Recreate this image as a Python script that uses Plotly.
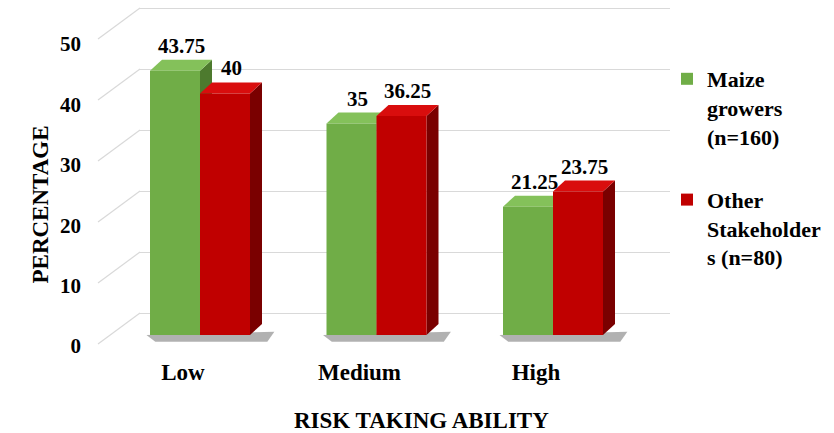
import plotly.graph_objects as go

# ---- data -------------------------------------------------------------
categories = ["Low", "Medium", "High"]
maize_growers = [43.75, 35, 21.25]
other_stakeholders = [40, 36.25, 23.75]
series_names = ["Maize<br>growers<br>(n=160)", "Other<br>Stakeholder<br>s (n=80)"]
y_ticks = [0, 10, 20, 30, 40, 50]

# ---- geometry (pixels) ------------------------------------------------
W, H = 834, 433
L, R, T, B = 140, 164, 5, 83
plot_w = W - L - R
plot_h = H - T - B

px_per_cat = 176.5          # horizontal distance between categories
first_cat_px = 200          # pixel x of first category centre
x_range = [(L - first_cat_px) / px_per_cat, (L + plot_w - first_cat_px) / px_per_cat]

px_per_unit = 6.04          # vertical scale of the columns
zero_px = 335               # pixel y of column base
y_range = [-(T + plot_h - zero_px) / px_per_unit, (zero_px - T) / px_per_unit]

grid_px = 6.1               # back-wall grid scale
grid_zero = 313
grid_range = [-(T + plot_h - grid_zero) / grid_px, (grid_zero - T) / grid_px]

bar_w = 50 / px_per_cat
depth_x = 12 / px_per_cat
depth_y = 11 / px_per_unit

styles = [
    dict(front="#70ad47", top="#84c15a", side="#4d7a2e", offset=-bar_w),
    dict(front="#c00000", top="#d90d0d", side="#7a0000", offset=0.0),
]

font_family = "Times New Roman, Liberation Serif, serif"

fig = go.Figure()

# ---- floor shadows and 3D faces (drawn beneath the column fronts) ----
for i, _ in enumerate(categories):
    xl = i - bar_w
    xr = i + bar_w + depth_x
    fig.add_trace(go.Scatter(
        x=[xl - 0.02, xr + 0.07, xr + 0.03, xl + 0.03, xl - 0.02],
        y=[0, depth_y * 0.3, -1.1, -1.1, 0],
        fill="toself", fillcolor="rgba(60,60,60,0.4)",
        line=dict(width=0), mode="lines", showlegend=False, hoverinfo="skip",
        xaxis="x", yaxis="y",
    ))

for values, st in zip([maize_growers, other_stakeholders], styles):
    for i, v in enumerate(values):
        xl = i + st["offset"]
        xr = xl + bar_w
        # side face
        fig.add_trace(go.Scatter(
            x=[xr, xr + depth_x, xr + depth_x, xr, xr],
            y=[0, depth_y, v + depth_y, v, 0],
            fill="toself", fillcolor=st["side"], line=dict(width=0, color=st["side"]),
            mode="lines", showlegend=False, hoverinfo="skip", xaxis="x", yaxis="y",
        ))
        # top face
        fig.add_trace(go.Scatter(
            x=[xl, xr, xr + depth_x, xl + depth_x, xl],
            y=[v, v, v + depth_y, v + depth_y, v],
            fill="toself", fillcolor=st["top"], line=dict(width=0, color=st["top"]),
            mode="lines", showlegend=False, hoverinfo="skip", xaxis="x", yaxis="y",
        ))

# ---- column fronts -----------------------------------------------------
for name, values, st in zip(series_names, [maize_growers, other_stakeholders], styles):
    fig.add_trace(go.Bar(
        x=list(range(len(categories))), y=values, name=name,
        width=bar_w, offset=st["offset"],
        marker=dict(color=st["front"], line=dict(width=0)),
        legendgroup=name, xaxis="x", yaxis="y3",
    ))

# ---- value labels ------------------------------------------------------
for values, st in zip([maize_growers, other_stakeholders], styles):
    for i, v in enumerate(values):
        fig.add_annotation(
            x=i + st["offset"] + bar_w / 2 + depth_x / 2, y=v + depth_y,
            xref="x", yref="y", text=f"<b>{v:g}</b>", showarrow=False,
            yanchor="bottom", font=dict(size=21, family=font_family, color="black"),
        )

# ---- slanted side-wall lines --------------------------------------------
slant_dx = 42 / plot_w
slant_dy = 31 / grid_px
for t in y_ticks:
    fig.add_shape(
        type="line", xref="paper", yref="y2",
        x0=-slant_dx, y0=t - slant_dy, x1=0, y1=t,
        line=dict(color="#d9d9d9", width=1.2),
    )

# ---- axis titles -------------------------------------------------------
fig.add_annotation(
    text="<b>PERCENTAGE</b>", textangle=-90, xref="paper", yref="paper",
    x=(25 - L) / plot_w, y=1 - (205 - T) / plot_h, showarrow=False,
    font=dict(size=23, family=font_family, color="black"),
)
fig.add_annotation(
    text="<b>RISK TAKING ABILITY</b>", xref="paper", yref="paper",
    x=(421 - L) / plot_w, y=1 - (406 - T) / plot_h, yanchor="top", showarrow=False,
    font=dict(size=23, family=font_family, color="black"),
)

fig.update_layout(
    width=W, height=H,
    margin=dict(l=L, r=R, t=T, b=B),
    paper_bgcolor="white", plot_bgcolor="white",
    font=dict(family=font_family, color="black"),
    barmode="overlay",
    showlegend=True,
    legend=dict(
        x=(667 - L) / plot_w, y=1 - (58 - T) / plot_h, xanchor="left", yanchor="top",
        font=dict(size=22, family=font_family, color="black", weight="bold"),
        valign="top", tracegroupgap=32, bgcolor="rgba(0,0,0,0)",
    ),
    xaxis=dict(
        range=x_range, tickvals=list(range(len(categories))),
        ticktext=[f"<b>{c}</b>" for c in categories],
        showgrid=False, zeroline=False, showline=False, ticks="",
        ticklabelshift=-17, ticklabelstandoff=6,
        tickfont=dict(size=23, family=font_family, color="black"),
    ),
    yaxis=dict(
        range=y_range, tickvals=y_ticks, ticktext=[f"<b>{t}</b>" for t in y_ticks],
        showgrid=False, zeroline=False, showline=False,
        ticks="", ticklabelshift=11, ticklabelstandoff=58,
        tickfont=dict(size=21, family=font_family, color="black"),
    ),
    yaxis2=dict(
        range=grid_range, overlaying="y", anchor="x", tickvals=y_ticks,
        showgrid=True, gridcolor="#d9d9d9", gridwidth=1.2,
        zeroline=False, showline=False, showticklabels=False, ticks="",
    ),
    yaxis3=dict(
        range=y_range, overlaying="y", anchor="x",
        showgrid=False, zeroline=False, showline=False, showticklabels=False, ticks="",
    ),
)

# gridlines need a trace on their axis to be drawn
fig.add_trace(go.Scatter(x=[None], y=[None], xaxis="x", yaxis="y2", showlegend=False, hoverinfo="skip"))

fig.write_html("out.html")
